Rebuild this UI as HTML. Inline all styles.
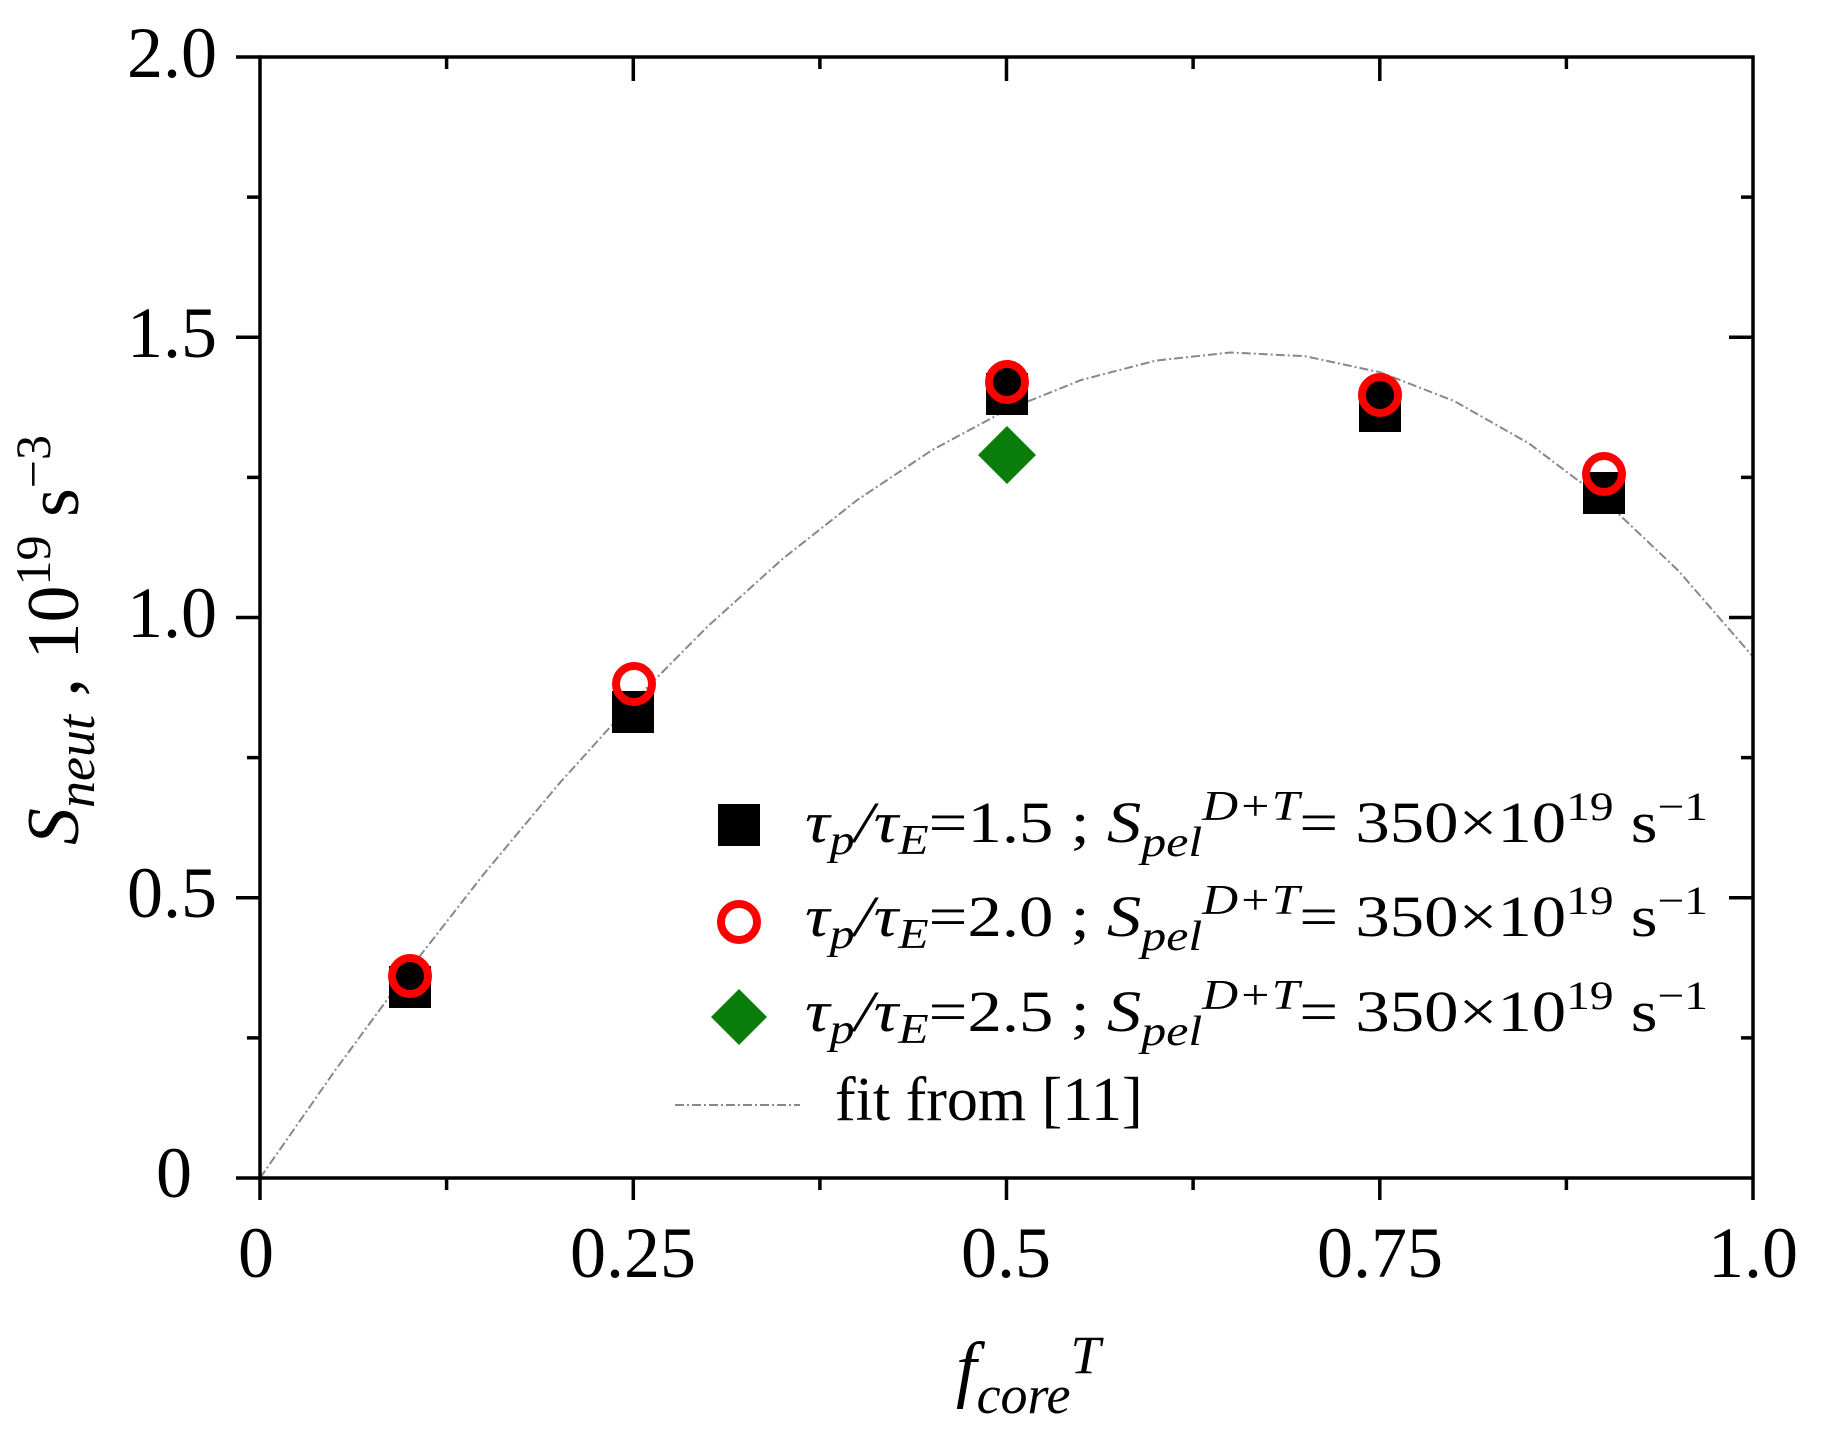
<!DOCTYPE html>
<html><head><meta charset="utf-8"><style>
html,body{margin:0;padding:0;background:#fff;}
svg{display:block;}
text{font-family:"Liberation Serif","Times New Roman","Nimbus Roman","DejaVu Serif",serif;fill:#000;}
</style></head><body>
<svg width="1826" height="1440" viewBox="0 0 1826 1440" xmlns="http://www.w3.org/2000/svg">
<polyline fill="none" stroke="#888" stroke-width="2" stroke-dasharray="9 3 2 3"
points="260,1178 334.7,1071 409.3,969.6 484,873.8 558.6,784.2 633.3,701.5 707.9,626.2 782.6,558.9 857.2,500 931.9,450.2 1006.5,410.1 1081.2,380 1155.8,360.6 1230.5,352.5 1305.1,356.2 1379.8,372.2 1454.4,401.1 1529.1,443.5 1603.7,499.8 1678.4,570.7 1753,656.7"/>
<g stroke="#000" stroke-width="3.5" fill="none">
<rect x="260" y="57" width="1493" height="1121"/>
<path d="M260 1178h-24M260 897.8h-24M260 617.5h-24M260 337.3h-24M260 57h-24"/>
<path d="M260 1037.9h-13M260 757.6h-13M260 477.4h-13M260 197.1h-13"/>
<path d="M1753 897.8h-24M1753 617.5h-24M1753 337.3h-24"/>
<path d="M1753 1037.9h-12M1753 757.6h-12M1753 477.4h-12M1753 197.1h-12"/>
<path d="M260 1178v22M633.3 1178v22M1006.5 1178v22M1379.8 1178v22M1753 1178v22"/>
<path d="M446.6 1178v12M819.9 1178v12M1193.1 1178v12M1566.4 1178v12"/>
<path d="M633.3 57v24M1006.5 57v24M1379.8 57v24"/>
<path d="M446.6 57v12M819.9 57v12M1193.1 57v12M1566.4 57v12"/>
</g>
<g font-size="72" text-anchor="end">
<text x="192" y="1197">0</text>
<text x="217" y="917">0.5</text>
<text x="217" y="637">1.0</text>
<text x="217" y="357">1.5</text>
<text x="217" y="77">2.0</text>
</g>
<g font-size="72" text-anchor="middle">
<text x="256" y="1277">0</text>
<text x="633" y="1277">0.25</text>
<text x="1006" y="1277">0.5</text>
<text x="1380" y="1277">0.75</text>
<text x="1753" y="1277">1.0</text>
</g>
<text x="956" y="1393" font-size="74"><tspan font-style="italic">f</tspan><tspan font-style="italic" font-size="54" dy="20">core</tspan><tspan font-style="italic" font-size="54" dy="-40">T</tspan></text>
<text transform="translate(78,845) rotate(-90)" font-size="74"><tspan font-style="italic">S</tspan><tspan font-style="italic" font-size="54" dy="16">neut</tspan><tspan dy="-16"> , 10</tspan><tspan font-size="50" dy="-28">19</tspan><tspan dy="28"> s</tspan><tspan font-size="50" dy="-28">−3</tspan></text>
<g fill="#000">
<rect x="389" y="966" width="42" height="42"/>
<rect x="612" y="691" width="42" height="42"/>
<rect x="986" y="373" width="42" height="42"/>
<rect x="1359" y="390" width="42" height="42"/>
<rect x="1583" y="472" width="42" height="42"/>
</g>
<polygon points="1007,426 1036,455 1007,484 978,455" fill="#0a7d0a"/>
<g fill="#000" stroke="#f00" stroke-width="8">
<circle cx="410" cy="976" r="18"/>
<circle cx="634" cy="684" r="18" fill="none"/>
<circle cx="1007" cy="382" r="18"/>
<circle cx="1380" cy="395" r="18"/>
<circle cx="1604" cy="474" r="18" fill="none"/>
</g>
<rect x="718" y="804" width="42" height="42" fill="#000"/>
<circle cx="739" cy="922" r="18" fill="#fff" stroke="#f00" stroke-width="8"/>
<polygon points="739,989 767,1017 739,1045 711,1017" fill="#0a7d0a"/>
<line x1="675" y1="1105" x2="800" y2="1105" stroke="#888" stroke-width="2" stroke-dasharray="9 3 2 3"/>
<g font-size="58">
<text x="805" y="842" textLength="903" lengthAdjust="spacingAndGlyphs"><tspan font-style="italic">τ</tspan><tspan font-style="italic" font-size="42" dy="12">p</tspan><tspan font-style="italic" dy="-12">/τ</tspan><tspan font-style="italic" font-size="42" dy="12">E</tspan><tspan dy="-12">=1.5 ; </tspan><tspan font-style="italic">S</tspan><tspan font-style="italic" font-size="42" dy="14">pel</tspan><tspan font-style="italic" font-size="42" dy="-36">D+T</tspan><tspan dy="22">= 350×10</tspan><tspan font-size="40" dy="-22">19</tspan><tspan dy="22"> s</tspan><tspan font-size="40" dy="-22">−1</tspan></text>
<text x="805" y="936" textLength="903" lengthAdjust="spacingAndGlyphs"><tspan font-style="italic">τ</tspan><tspan font-style="italic" font-size="42" dy="12">p</tspan><tspan font-style="italic" dy="-12">/τ</tspan><tspan font-style="italic" font-size="42" dy="12">E</tspan><tspan dy="-12">=2.0 ; </tspan><tspan font-style="italic">S</tspan><tspan font-style="italic" font-size="42" dy="14">pel</tspan><tspan font-style="italic" font-size="42" dy="-36">D+T</tspan><tspan dy="22">= 350×10</tspan><tspan font-size="40" dy="-22">19</tspan><tspan dy="22"> s</tspan><tspan font-size="40" dy="-22">−1</tspan></text>
<text x="805" y="1031" textLength="903" lengthAdjust="spacingAndGlyphs"><tspan font-style="italic">τ</tspan><tspan font-style="italic" font-size="42" dy="12">p</tspan><tspan font-style="italic" dy="-12">/τ</tspan><tspan font-style="italic" font-size="42" dy="12">E</tspan><tspan dy="-12">=2.5 ; </tspan><tspan font-style="italic">S</tspan><tspan font-style="italic" font-size="42" dy="14">pel</tspan><tspan font-style="italic" font-size="42" dy="-36">D+T</tspan><tspan dy="22">= 350×10</tspan><tspan font-size="40" dy="-22">19</tspan><tspan dy="22"> s</tspan><tspan font-size="40" dy="-22">−1</tspan></text>
<text x="835" y="1120" font-size="62">fit from [11]</text>
</g>
</svg>
</body></html>
